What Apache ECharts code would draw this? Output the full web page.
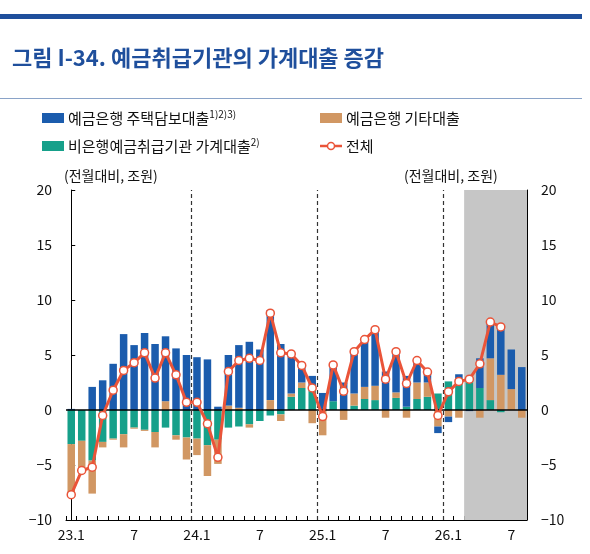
<!DOCTYPE html>
<html><head><meta charset="utf-8">
<script src="https://cdn.jsdelivr.net/npm/echarts@6/dist/echarts.min.js"></script>
<style>html,body{margin:0;padding:0;background:#fff}#c{width:590px;height:554px}</style>
</head><body><div id="c"></div>
<script>
const categories = [];
for (const y of [23,24,25,26]) for (let m=1;m<=12;m++){ if(y===26&&m>8)break; categories.push(y+'.'+m); }
const mortgage = [0.1,0,2.1,2.7,4.2,6.9,5.9,7.0,6.0,5.9,5.6,5.0, 4.8,4.6,0.3,4.6,5.7,6.2,5.5,8.2,6.0,3.5,1.5,1.3, 1.55,3.4,2.5,3.9,4.2,5.1,3.5,3.75,2.8,2.0,1.0,-0.6, -0.5,0.35,-0.1,2.7,3.3,4.4,3.6,3.9];
const otherBank = [-4.7,-2.5,-3.0,-0.5,-0.1,-1.2,-0.1,-0.1,-1.4,0.8,-0.4,-2.0, -1.5,-2.8,-2.2,0.4,0.2,-0.3,0,0.9,-0.6,0.3,0.5,-1.2, -2.3,0,-0.9,1.1,1.1,1.3,-0.7,0.5,-0.7,1.5,1.3,-1.5, -0.6,-0.7,0,-0.7,3.8,3.2,1.9,-0.7];
const nonBank = [-3.1,-2.8,-4.6,-2.9,-2.6,-2.2,-1.6,-1.8,-2.0,-1.6,-2.3,-2.5, -2.6,-3.2,-2.7,-1.6,-1.5,-1.3,-1.0,-0.5,-0.4,1.2,2.0,1.8, 0,0.8,0,0.4,1.0,0.9,0,1.1,0.3,1.0,1.2,1.5, 2.6,2.9,2.9,2.0,0.9,-0.2,0,0];
const total = [-7.7,-5.5,-5.2,-0.5,1.8,3.6,4.3,5.2,2.9,5.2,3.2,0.7, 0.7,-1.25,-4.3,3.5,4.5,4.7,4.5,8.8,5.2,5.1,4.05,2.0, -0.6,4.1,1.7,5.3,6.4,7.3,2.8,5.3,2.4,4.5,3.45,-0.5, 1.65,2.6,2.8,4.2,8.0,7.55,null,null];
const yTicks = [-10,-5,0,5,10,15,20];
const C = {blue:'#1b5cad', tan:'#d19763', green:'#16a08a', red:'#ea5439', title:'#1f4f9c'};
const chart = echarts.init(document.getElementById('c'));
const FF = '"Noto Sans CJK KR","Noto Sans",sans-serif';
const yAx = (pos)=>({type:'value',position:pos,min:-10,max:20,interval:5,
  axisLine:{show:true,lineStyle:{color:'#000'}},axisTick:{show:true,inside:true,length:4,lineStyle:{color:'#000'}},
  splitLine:{show:false},axisLabel:{color:'#111',fontSize:14,fontFamily:FF,margin:14,formatter:v=>v<0?'\u2212'+(-v):''+v}});
const leg = (x,y,color,text,isLine)=>{
  const els=[];
  if(isLine){els.push({type:'line',shape:{x1:x,y1:y,x2:x+22,y2:y},style:{stroke:C.red,lineWidth:2.5}});
    els.push({type:'circle',shape:{cx:x+11,cy:y,r:3.5},style:{fill:'#fff',stroke:C.red,lineWidth:1.5}});}
  else els.push({type:'rect',shape:{x:x,y:y-5,width:22,height:10},style:{fill:color}});
  els.push({type:'text',x:x+26,y:y,style:{text:text,fill:'#111',font:'15px '+FF,verticalAlign:'middle',
    rich:{s:{fontSize:10,verticalAlign:'top',padding:[0,0,8,0],fontFamily:FF}}}});
  return els;
};
chart.setOption({
  animation:false,
  graphic:[
    {type:'rect',shape:{x:0,y:14,width:582,height:5},style:{fill:C.title}},
    {type:'text',x:12,y:58,style:{text:'그림 I-34. 예금취급기관의 가계대출 증감',fill:C.title,font:'bold 22px '+FF,verticalAlign:'middle'}},
    {type:'rect',shape:{x:0,y:98,width:582,height:1},style:{fill:'#8aa3c8'}},
    ...leg(42,118,C.blue,'예금은행 주택담보대출{s|1)2)3)}'),
    ...leg(320,118,C.tan,'예금은행 기타대출'),
    ...leg(42,146,C.green,'비은행예금취급기관 가계대출{s|2)}'),
    ...leg(320,146,null,'전체',true),
    {type:'text',x:64,y:176,style:{text:'(전월대비, 조원)',fill:'#111',font:'14px '+FF,verticalAlign:'middle'}},
    {type:'text',x:404,y:176,style:{text:'(전월대비, 조원)',fill:'#111',font:'14px '+FF,verticalAlign:'middle'}}
  ],
  grid:{left:66,right:63,top:190,bottom:34},
  xAxis:[{type:'category',data:categories,boundaryGap:true,
    axisLine:{onZero:false,lineStyle:{color:'#000'}},
    axisTick:{show:true,inside:true,length:4,interval:0,lineStyle:{color:'#000'}},
    axisLabel:{interval:0,color:'#111',fontSize:14,fontFamily:FF,margin:8,
      formatter:(v)=>{const [y,m]=v.split('.');return m==='1'?v:(m==='7'?'7':'');}}},
    {type:'value',min:-0.5,max:43.5,show:false}],
  yAxis:[yAx('left'),yAx('right')],
  series:[
    {name:'n',type:'bar',stack:'a',data:nonBank,itemStyle:{color:C.green},barWidth:7.5,z:2},
    {name:'o',type:'bar',stack:'a',data:otherBank,itemStyle:{color:C.tan},barWidth:7.5,z:2},
    {name:'m',type:'bar',stack:'a',data:mortgage,itemStyle:{color:C.blue},barWidth:7.5,z:2},
    {name:'helper',type:'line',xAxisIndex:1,data:[],z:1,
      markArea:{silent:true,itemStyle:{color:'#c6c6c6'},data:[[{xAxis:37.5},{xAxis:43.5}]]},
      markLine:{silent:true,symbol:'none',label:{show:false},lineStyle:{color:'#333',type:[4,3],width:1.2},
        data:[{xAxis:11.5},{xAxis:23.5},{xAxis:35.5}]}},
    {name:'zero',type:'line',data:[],z:3,
      markLine:{silent:true,symbol:'none',label:{show:false},lineStyle:{color:'#000',type:'solid',width:1.5},data:[{yAxis:0}]}},
    {name:'t',type:'line',data:total,symbol:'circle',symbolSize:8,z:5,
      lineStyle:{color:C.red,width:3},itemStyle:{color:'#fff',borderColor:C.red,borderWidth:1.5}}
  ]
});
</script></body></html>
